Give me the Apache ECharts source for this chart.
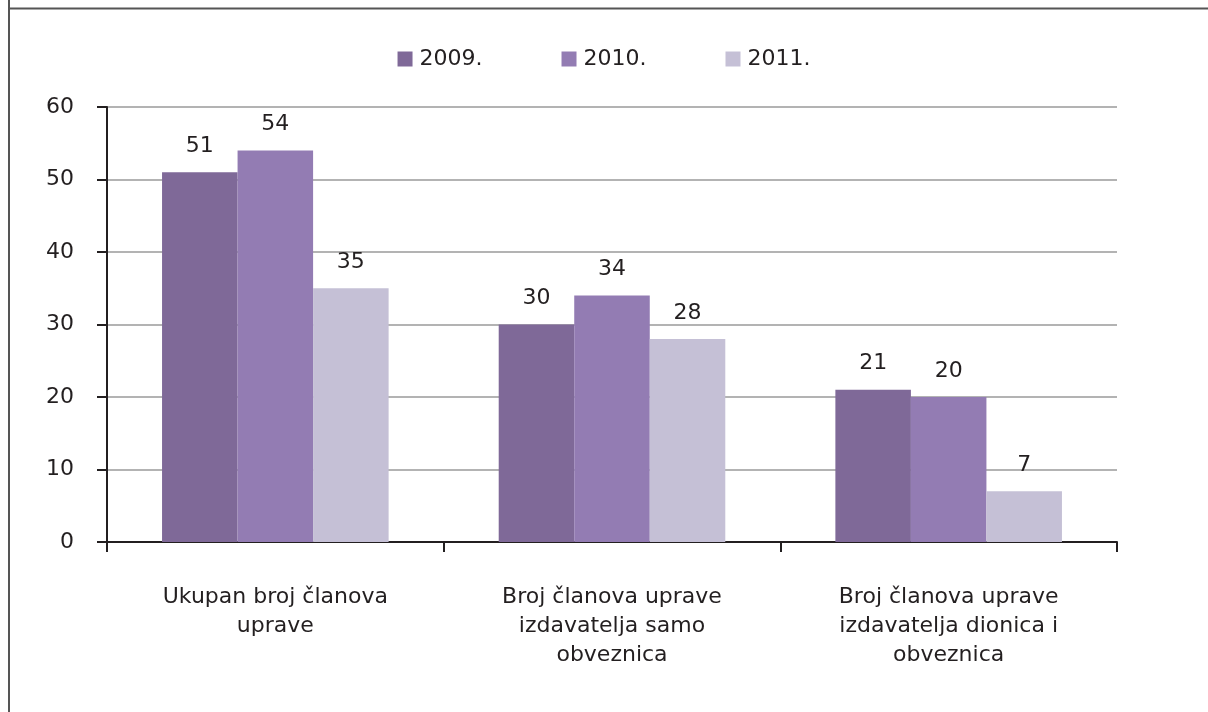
<!DOCTYPE html>
<html>
<head>
<meta charset="utf-8">
<script src="https://cdn.jsdelivr.net/npm/echarts@6/dist/echarts.min.js"></script>
<style>
html,body{margin:0;padding:0;background:#fff;}
#c{width:1208px;height:712px;}
</style>
</head>
<body>
<div id="c"></div>
<script>
const categories = [
  "Ukupan broj članova\nuprave",
  "Broj članova uprave\nizdavatelja samo\nobveznica",
  "Broj članova uprave\nizdavatelja dionica i\nobveznica"
];
const seriesNames = ["2009.", "2010.", "2011."];
const values2009 = [51, 30, 21];
const values2010 = [54, 34, 20];
const values2011 = [35, 28, 7];
const yTicks = { min: 0, max: 60, interval: 10 };
const colors = ["#7f6998", "#937cb3", "#c5c0d6"];

const FONT = "DejaVu Sans";
const txt = "#231f20";
const FS = 22;
const chart = echarts.init(document.getElementById('c'), null, { renderer: 'canvas' });
const data = [values2009, values2010, values2011];

chart.setOption({
  animation: false,
  textStyle: { fontFamily: FONT },
  legend: {
    top: 43,
    left: 'center',
    itemWidth: 15,
    itemHeight: 15,
    itemGap: 79,
    icon: 'rect',
    textStyle: { fontFamily: FONT, fontSize: FS, color: txt, padding: [0,0,0,2] },
    data: seriesNames
  },
  grid: { left: 107, right: 91, top: 107, bottom: 170, containLabel: false },
  xAxis: {
    type: 'category',
    data: categories,
    axisLine: { lineStyle: { color: '#231f20', width: 2 } },
    axisTick: { show: true, length: 10, lineStyle: { color: '#231f20', width: 2 } },
    axisLabel: { fontFamily: FONT, fontSize: FS, color: txt, margin: 41, lineHeight: 29, interval: 0 }
  },
  yAxis: {
    type: 'value',
    min: yTicks.min, max: yTicks.max, interval: yTicks.interval,
    axisLine: { show: true, lineStyle: { color: '#231f20', width: 2 } },
    axisTick: { show: true, length: 10, lineStyle: { color: '#231f20', width: 2 } },
    axisLabel: { fontFamily: FONT, fontSize: FS, color: txt, margin: 33, padding: [6, 0, 0, 0] },
    splitLine: { show: true, lineStyle: { color: '#b3b3b3', width: 2 } }
  },
  series: seriesNames.map((n, i) => ({
    name: n,
    type: 'bar',
    data: data[i],
    barGap: '0%',
    barCategoryGap: '32.7%',
    itemStyle: { color: colors[i], borderWidth: 0 },
    label: { show: true, position: 'top', distance: 15, fontFamily: FONT, fontSize: FS, color: txt }
  })),
  graphic: [
    { type: 'line', shape: { x1: 9, y1: 0, x2: 9, y2: 712 }, style: { stroke: '#555', lineWidth: 2 } },
    { type: 'line', shape: { x1: 8, y1: 8.5, x2: 1208, y2: 8.5 }, style: { stroke: '#555', lineWidth: 2 } }
  ]
});
</script>
</body>
</html>
